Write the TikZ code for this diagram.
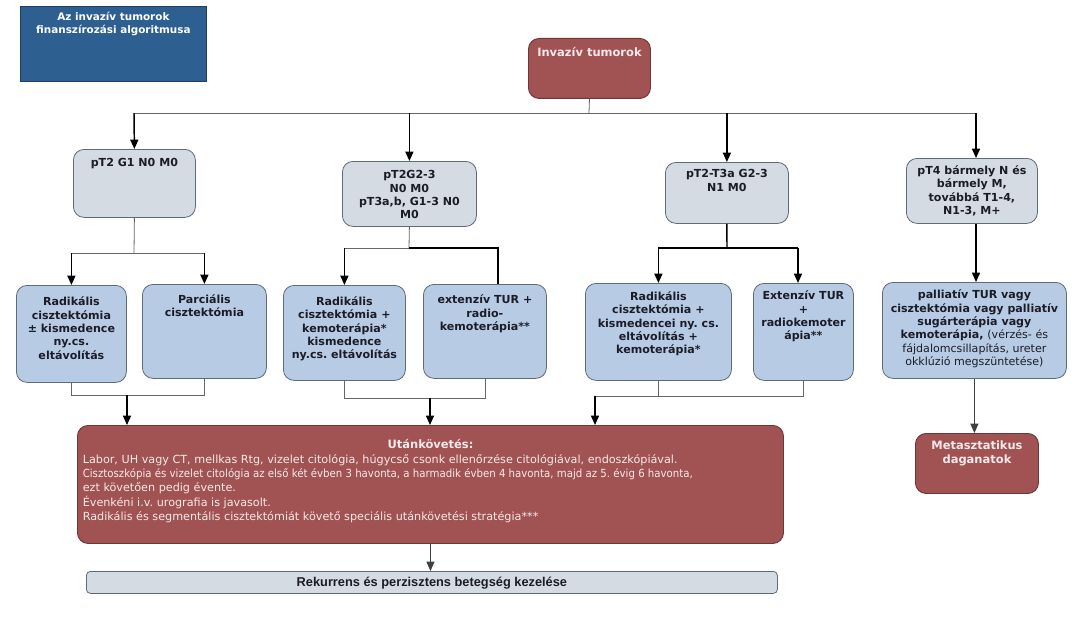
\documentclass[tikz,border=0pt]{standalone}
\usepackage{fontspec}
\setmainfont{DejaVu Sans}
\newfontfamily\narrowfont{Liberation Sans}
\usetikzlibrary{arrows.meta}
\definecolor{titleblue}{HTML}{2D5F91}
\definecolor{titleedge}{HTML}{1E3E63}
\definecolor{redfill}{HTML}{A15252}
\definecolor{rededge}{HTML}{6E3636}
\definecolor{redtext}{HTML}{F6EAEA}
\definecolor{grayfill}{HTML}{D5DBE2}
\definecolor{bluefill}{HTML}{B7CCE4}
\definecolor{boxedge}{HTML}{5F6B78}
\definecolor{inktext}{HTML}{1C1C28}
\newcommand\bx[8]{%
  \pgfmathsetmacro\bxw{(#5-#3)*0.75}%
  \pgfmathsetmacro\bxh{(#6-#4)*0.75}%
  \pgfmathsetmacro\bxb{#7*0.75}%
  \node[#2, anchor=north west, inner sep=0pt] (#1) at (#3,#4)
    {\parbox[t][\bxh pt][t]{\bxw pt}{\frenchspacing\centering\rule{0pt}{\bxb pt}#8\par}};%
}
\tikzset{
  redbox/.style={draw=rededge, line width=0.7pt, fill=redfill, rounded corners=8pt, text=redtext, font=\fontsize{8.6}{10}\selectfont\bfseries},
  graybox/.style={draw=boxedge, line width=0.6pt, fill=grayfill, rounded corners=8pt, text=inktext, font=\fontsize{8.3}{10}\selectfont\bfseries},
  bluebox/.style={draw=boxedge, line width=0.6pt, fill=bluefill, rounded corners=8pt, text=inktext, font=\fontsize{8.3}{10}\selectfont\bfseries},
  titlebox/.style={draw=titleedge, line width=0.6pt, fill=titleblue, text=white, font=\fontsize{7.8}{9.75}\selectfont\bfseries},
  lnthin/.style={draw=black!60, line width=0.6pt},
  lnthick/.style={draw=black, line width=1.1pt},
  arrk/.style={draw=black, line width=1.1pt, -{Triangle[length=7pt,width=6pt]}},
  arrthin/.style={draw=black!75, line width=0.6pt, -{Triangle[length=7pt,width=6pt]}}
}
\begin{document}
\begin{tikzpicture}[x=0.75pt,y=-0.75pt]
\useasboundingbox (0,0) rectangle (1089,617);
\fill[white] (0,0) rectangle (1089,617);
% boxes
\bx{title}{titlebox}{20}{6}{206}{81}{14}{Az invazív tumorok\\finanszírozási algoritmusa}
\bx{inv}{redbox}{528}{38}{650}{98}{18.5}{Invazív tumorok}
\bx{pt1}{graybox}{73}{149}{195}{217}{17.5}{pT2 G1 N0 M0}
\bx{pt2}{graybox}{342}{161}{476}{226}{17.5}{pT2G2-3\\N0 M0\\pT3a,b, G1-3 N0\\M0}
\bx{pt3}{graybox}{665}{162}{788}{223}{15.5}{pT2-T3a G2-3\\N1 M0}
\bx{pt4}{graybox}{906}{158}{1037}{223}{16}{pT4 bármely N és\\bármely M,\\továbbá T1-4,\\N1-3, M+}
\bx{r1}{bluebox}{16}{285}{126}{382}{20.5}{Radikális\\cisztektómia\\± kismedence\\ny.cs.\\eltávolítás}
\bx{parc}{bluebox}{142}{284}{266}{378}{19}{Parciális\\cisztektómia}
\bx{r2}{bluebox}{283}{285}{405}{380}{20}{Radikális\\cisztektómia +\\kemoterápia*\\kismedence\\ny.cs. eltávolítás}
\bx{ext}{bluebox}{423}{284}{546}{378}{19.5}{extenzív TUR +\\radio-\\kemoterápia**}
\bx{r3}{bluebox}{585}{283}{731}{380}{17}{Radikális\\cisztektómia +\\kismedencei ny. cs.\\eltávolítás +\\kemoterápia*}
\bx{ext2}{bluebox}{753}{283}{853}{380}{16.5}{Extenzív TUR\\+\\radiokemoter\\ápia**}
\bx{pall}{bluebox}{882}{282}{1066}{378}{16.5}{palliatív TUR vagy\\cisztektómia vagy palliatív\\sugárterápia vagy\\kemoterápia, {\mdseries(vérzés- és\\fájdalomcsillapítás, ureter\\okklúzió megszüntetése)}}
\bx{met}{redbox}{915}{433}{1038}{493}{16.5}{Metasztatikus\\daganatok}
\bx{ut}{redbox}{77}{425}{783}{543}{23.5}{Utánkövetés:\par
  \raggedright\leftskip=4pt\mdseries\fontsize{8.4}{10.7}\selectfont
  Labor, UH vagy CT, mellkas Rtg, vizelet citológia, húgycső csonk ellenőrzése citológiával, endoszkópiával.\\
  \scalebox{0.91}[1]{Cisztoszkópia és vizelet citológia az első két évben 3 havonta, a harmadik évben 4 havonta, majd az 5. évig 6 havonta,}\\
  ezt követően pedig évente.\\
  Évenkéni i.v. urografia is javasolt.\\
  Radikális és segmentális cisztektómiát követő speciális utánkövetési stratégia***}
\bx{rek}{graybox, rounded corners=3pt, font=\narrowfont\fontsize{9.6}{10}\selectfont\bfseries}{86}{571}{777}{593}{15}{Rekurrens és perzisztens betegség kezelése}
% top distribution
\coordinate (j0) at (589,113);
\coordinate (jL) at (134,113);
\coordinate (jR) at (976,113);
\draw[lnthin] (inv.south) -- (j0);
\draw[lnthin] (jL) -- (jR);
\draw[arrk] (jL) -- (pt1.north);
\draw[arrk] (pt2.north |- j0) -- (pt2.north);
\draw[arrk] (pt3.north |- j0) -- (pt3.north);
\draw[arrk] (jR) -- (jR |- pt4.north);
% pt1 branch
\coordinate (j1) at (134,253);
\draw[lnthin] (pt1.south) -- (j1);
\draw[lnthin] (r1.north |- j1) -- (parc.north |- j1);
\draw[arrk] (r1.north |- j1) -- (r1.north);
\draw[arrk] (parc.north |- j1) -- (parc.north);
% pt2 branch
\coordinate (j2) at (409,248);
\coordinate (j2r) at (498,248);
\draw[lnthin] (pt2.south) -- (j2);
\draw[lnthin] (j2) -- (r2.north |- j2);
\draw[arrk] (r2.north |- j2) -- (r2.north);
\draw[lnthick] (j2) -- (j2r) -- (j2r |- ext.north);
% pt3 branch
\coordinate (j3) at (727,248);
\coordinate (j3r) at (798,248);
\draw[lnthick] (pt3.south) -- (j3);
\draw[lnthick] (r3.north |- j3) -- (j3r);
\draw[arrk] (r3.north |- j3) -- (r3.north);
\draw[arrk] (j3r) -- (j3r |- ext2.north);
% pt4
\draw[arrk] (pt4.south -| jR) -- (jR |- pall.north);
% bottom merges
\coordinate (b1) at (127,395);
\draw[lnthin] (r1.south) -- (r1.south |- b1) -- (parc.south |- b1) -- (parc.south);
\draw[arrk] (b1) -- (b1 |- ut.north);
\coordinate (b2) at (430,398);
\draw[lnthin] (r2.south) -- (r2.south |- b2) -- (ext.south |- b2) -- (ext.south);
\draw[arrk] (b2) -- (b2 |- ut.north);
\coordinate (b3) at (595,396);
\draw[lnthin] (r3.south) -- (r3.south |- b3);
\draw[lnthin] (b3) -- (ext2.south |- b3) -- (ext2.south);
\draw[arrk] (b3) -- (b3 |- ut.north);
\draw[arrthin] (pall.south) -- (pall.south |- met.north);
\draw[arrthin] (ut.south) -- (ut.south |- rek.north);
\end{tikzpicture}
\end{document}
